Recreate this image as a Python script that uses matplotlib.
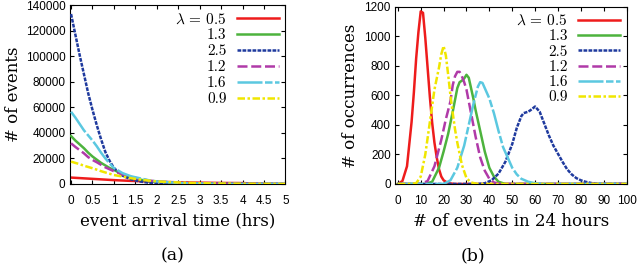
import numpy as np
import matplotlib
matplotlib.use('Agg')
import matplotlib.pyplot as plt

plt.rcParams['mathtext.fontset'] = 'cm'

# series labels (lambda values), in legend order
lambdas = ["0.5", "1.3", "2.5", "1.2", "1.6", "0.9"]
colors = ["#ee1c1c", "#4db33d", "#1f3a9e", "#b03aa8", "#5bc8e0", "#f0e600"]
styles = ["-", "-", (0, (1.5, 0.5)), (0, (4, 1.5)), (0, (10, 1, 3, 1)), (0, (3, 1, 1, 1))]

# (a) inter-arrival time histograms
t_hrs = [0, 0.1, 0.2, 0.3, 0.4, 0.5, 0.6, 0.7, 0.8, 0.9, 1.0,
         1.2, 1.4, 1.6, 1.8, 2.0, 2.5, 3.0, 3.5, 4.0, 4.5, 5.0]
ev_05 = [5000, 4800, 4600, 4400, 4200, 4000, 3800, 3600, 3400, 3200, 3000,
         2700, 2400, 2200, 1900, 1700, 1300, 1000, 800, 700, 0, 0]
ev_13 = [37500, 34000, 31000, 28000, 24500, 21500, 19000, 16500, 14500, 12500, 11000,
         7500, 5000, 3500, 2200, 1500, 600, 200, 100, 0, 0, 0]
ev_25 = [133000, 117000, 101000, 86000, 71000, 58000, 46000, 35000, 25000, 18000, 12500,
         6500, 3500, 2000, 1000, 500, 200, 0, 0, 0, 0, 0]
ev_12 = [31800, 29000, 26500, 24000, 21000, 18800, 17000, 15000, 13000, 11500, 10000,
         7500, 5500, 4000, 2800, 2000, 1000, 400, 200, 100, 0, 0]
ev_16 = [56500, 52000, 47000, 42000, 38000, 34000, 29500, 24500, 20000, 16000, 12500,
         8500, 6000, 4500, 3000, 2000, 800, 300, 100, 0, 0, 0]
ev_09 = [17500, 16500, 15500, 14300, 13300, 12300, 11200, 10000, 9000, 8000, 7000,
         5800, 4500, 3500, 2700, 2000, 1200, 600, 300, 150, 50, 0]
events_a = [ev_05, ev_13, ev_25, ev_12, ev_16, ev_09]

# (b) number of events in 24 hours
x_05 = [0, 2, 4, 6, 7, 8, 9, 10, 11, 12, 13, 14, 15, 16, 17, 18, 19, 20, 22, 25, 100]
y_05 = [0, 20, 120, 420, 620, 850, 1030, 1170, 1160, 990, 790, 590, 415, 280, 180, 100, 50, 25, 5, 0, 0]
x_13 = [0, 12, 15, 18, 20, 22, 24, 26, 27, 28, 29, 30, 31, 32, 33, 34, 36, 38, 40, 42, 44, 47, 100]
y_13 = [0, 0, 15, 110, 220, 340, 490, 650, 690, 700, 715, 740, 720, 650, 580, 500, 360, 220, 110, 50, 15, 0, 0]
x_25 = [0, 35, 38, 41, 44, 47, 50, 52, 54, 55, 57, 58, 60, 62, 64, 66, 68, 70, 72, 74, 76, 78, 80, 82, 85, 88, 100]
y_25 = [0, 0, 5, 25, 70, 150, 270, 380, 460, 480, 490, 500, 525, 490, 410, 330, 260, 205, 150, 100, 65, 40, 25, 15, 5, 0, 0]
x_12 = [0, 10, 13, 16, 19, 21, 23, 24, 25, 26, 27, 28, 29, 30, 31, 32, 33, 34, 35, 36, 38, 40, 42, 45, 100]
y_12 = [0, 0, 20, 120, 300, 440, 560, 670, 730, 760, 760, 730, 690, 640, 560, 480, 400, 320, 250, 180, 90, 35, 10, 0, 0]
x_16 = [0, 20, 23, 26, 29, 31, 33, 35, 36, 37, 38, 40, 42, 44, 46, 48, 50, 52, 54, 57, 60, 63, 100]
y_16 = [0, 0, 25, 110, 260, 400, 540, 660, 690, 685, 650, 580, 480, 360, 250, 180, 110, 65, 35, 15, 5, 0, 0]
x_09 = [0, 5, 8, 10, 12, 14, 16, 18, 19, 20, 21, 22, 23, 24, 25, 26, 28, 30, 32, 35, 100]
y_09 = [0, 0, 5, 50, 200, 420, 640, 790, 880, 935, 870, 740, 600, 480, 370, 280, 130, 40, 10, 0, 0]
counts_x = [x_05, x_13, x_25, x_12, x_16, x_09]
counts_y = [y_05, y_13, y_25, y_12, y_16, y_09]

cm = ['cmr10', 'DejaVu Serif']
labfont = ['DejaVu Serif']
tickfont = 'Liberation Sans'


def style_axes(ax):
    ax.tick_params(direction='in', top=True, right=True, length=3, width=0.8,
                   labelsize=8.5)
    ax.tick_params(axis='x', pad=8)
    ax.tick_params(axis='y', pad=3)
    for lab in ax.get_xticklabels() + ax.get_yticklabels():
        lab.set_family(tickfont)
    for s in ax.spines.values():
        s.set_linewidth(0.8)


def add_legend(ax, spacing):
    return ax.legend(loc='upper right', frameon=False, markerfirst=False,
                     prop={'family': cm, 'size': 11}, handlelength=2.7,
                     handletextpad=0.7, labelspacing=spacing, borderaxespad=0.25,
                     borderpad=0.2)


fig = plt.figure(figsize=(6.4, 2.67), dpi=100)
ax1 = fig.add_axes([0.109, 0.311, 0.337, 0.670])
ax2 = fig.add_axes([0.617, 0.311, 0.362, 0.663])

for i in range(len(lambdas)):
    lab = r"$\lambda$ = %s" % lambdas[i] if i == 0 else lambdas[i]
    ax1.plot(t_hrs, events_a[i], color=colors[i], linestyle=styles[i], lw=1.8, label=lab, zorder=2 + i)
    ax2.plot(counts_x[i], counts_y[i], color=colors[i], linestyle=styles[i], lw=1.8, label=lab, zorder=2 + i)

ax1.set_xlim(-0.03, 5)
ax1.set_ylim(0, 140000)
ax1.set_xticks(np.arange(0, 5.01, 0.5))
ax1.set_xticklabels(["0", "0.5", "1", "1.5", "2", "2.5", "3", "3.5", "4", "4.5", "5"])
ax1.set_yticks(np.arange(0, 140001, 20000))
ax1.set_xlabel("event arrival time (hrs)", family=labfont, fontsize=12, labelpad=4)
ax1.set_ylabel("# of events", family=labfont, fontsize=12, labelpad=3)
style_axes(ax1)
add_legend(ax1, 0.15)

ax2.set_xlim(-1.3, 100)
ax2.set_ylim(0, 1200)
ax2.set_xticks(np.arange(0, 101, 10))
ax2.set_yticks(np.arange(0, 1201, 200))
ax2.set_xlabel("# of events in 24 hours", family=labfont, fontsize=12, labelpad=4)
ax2.set_ylabel("# of occurrences", family=labfont, fontsize=12, labelpad=4)
style_axes(ax2)
add_legend(ax2, 0.1)

fig.text(0.269, 0.04, "(a)", family=labfont, fontsize=12.5, ha='center', va='center')
fig.text(0.739, 0.04, "(b)", family=labfont, fontsize=12.5, ha='center', va='center')

fig.savefig("out.png", dpi=100)
